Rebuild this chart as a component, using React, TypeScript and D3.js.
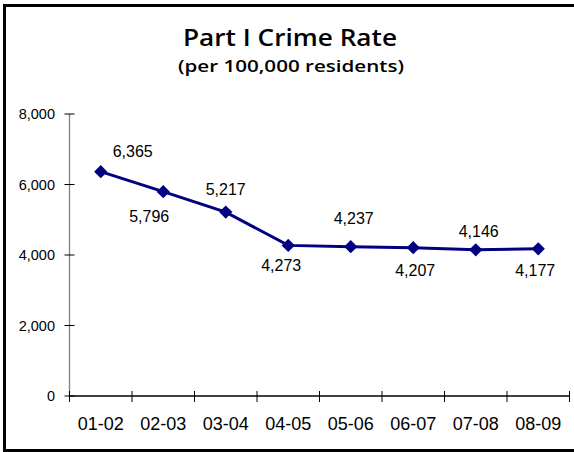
import React from "react";
import * as d3 from "d3";

// Fiscal years and Part I crime rate per 100,000 residents
const years = ["01-02", "02-03", "03-04", "04-05", "05-06", "06-07", "07-08", "08-09"];
const rates = [6365, 5796, 5217, 4273, 4237, 4207, 4146, 4177];
const yTicks = [0, 2000, 4000, 6000, 8000];

// Hand-placed value label offsets (dx, dy from the marker, to the label baseline)
const labelDx = [32, -14, 0, -7, 3, 2, 3, -3];
const labelDy = [-15, 30, -17, 26, -23, 28, -13, 27];

const W = 574;
const H = 452;
const plotLeft = 69.5;
const plotRight = 569.5;
const plotTop = 114;
const plotBottom = 396;

const NAVY = "#000080";
const fmt = d3.format(",");

export default function App() {
  const x = d3.scaleBand<string>().domain(years).range([plotLeft, plotRight]);
  const y = d3.scaleLinear().domain([0, 8000]).range([plotBottom, plotTop]);

  const cx = (i: number) => (x(years[i]) as number) + x.bandwidth() / 2;

  const line = d3
    .line<number>()
    .x((_, i) => cx(i))
    .y((d) => y(d));

  const diamond = d3.symbol().type(d3.symbolSquare).size(88)() as string;

  const boundaries = [...years.map((yr) => x(yr) as number), plotRight];

  return (
    <svg
      width={W}
      height={H}
      style={{ position: "absolute", left: 0, top: 0, background: "#fff", overflow: "hidden" }}
      fontFamily="'Liberation Sans', Arial, sans-serif"
    >
      <rect x={0} y={0} width={W} height={H} fill="#fff" />
      {/* outer frame: left, top and bottom edges, open on the right */}
      <path d={`M ${W} 5.5 H 4.5 V 450.5 H ${W}`} fill="none" stroke="#000" strokeWidth={3} />

      <text
        x={290}
        y={46}
        textAnchor="middle"
        fontFamily="'Open Sans', Lato, sans-serif"
        fontWeight={600}
        fontSize={24}
        textLength={214}
        lengthAdjust="spacingAndGlyphs"
        fill="#000"
      >
        Part I Crime Rate
      </text>
      <text
        x={291}
        y={72}
        textAnchor="middle"
        fontFamily="'Open Sans', Lato, sans-serif"
        fontWeight={600}
        fontSize={16}
        textLength={226}
        lengthAdjust="spacingAndGlyphs"
        fill="#000"
      >
        (per 100,000 residents)
      </text>

      {/* y axis */}
      <line x1={plotLeft} x2={plotLeft} y1={plotTop} y2={plotBottom} stroke="#808080" strokeWidth={1.3} />
      {yTicks.map((t) => (
        <g key={t}>
          <line x1={plotLeft - 5} x2={plotLeft + 5} y1={y(t)} y2={y(t)} stroke="#000" strokeWidth={1} />
          <text x={55} y={y(t)} dy="0.36em" textAnchor="end" fontSize={14.5} fill="#000">
            {fmt(t)}
          </text>
        </g>
      ))}

      {/* x axis */}
      <line x1={plotLeft} x2={plotRight} y1={plotBottom} y2={plotBottom} stroke="#000" strokeWidth={1.3} />
      {boundaries.map((b, i) => (
        <line key={i} x1={b} x2={b} y1={plotBottom - 5} y2={plotBottom + 6} stroke="#000" strokeWidth={1} />
      ))}
      {years.map((yr, i) => (
        <text key={yr} x={cx(i)} y={430} textAnchor="middle" fontSize={18} fill="#000">
          {yr}
        </text>
      ))}

      {/* series */}
      <path d={line(rates) as string} fill="none" stroke={NAVY} strokeWidth={3} />
      {rates.map((v, i) => (
        <path key={i} d={diamond} transform={`translate(${cx(i)},${y(v)}) rotate(45)`} fill={NAVY} />
      ))}
      {rates.map((v, i) => (
        <text
          key={i}
          x={cx(i) + labelDx[i]}
          y={y(v) + labelDy[i]}
          textAnchor="middle"
          fontSize={16}
          fill="#000"
        >
          {fmt(v)}
        </text>
      ))}
    </svg>
  );
}
